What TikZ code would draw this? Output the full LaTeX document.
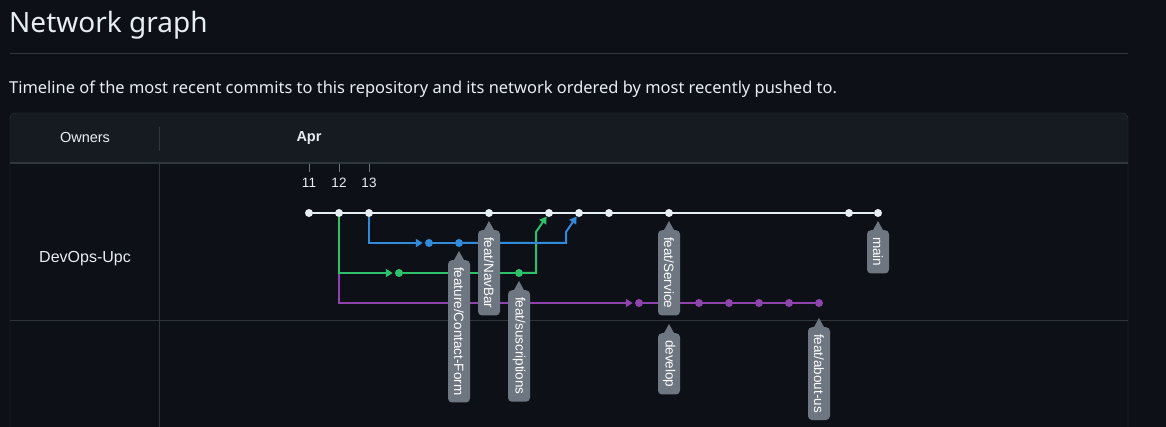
\documentclass[tikz,border=0pt]{standalone}
\usepackage{fontspec}
\setmainfont{Liberation Sans}
\newfontfamily\uifont{Noto Sans}
\usetikzlibrary{arrows.meta}
\usetikzlibrary{positioning}

\definecolor{pagebg}{HTML}{0D1117}
\definecolor{headbg}{HTML}{161B22}
\definecolor{rulecol}{HTML}{30363D}
\definecolor{fgtext}{HTML}{E6EDF3}
\definecolor{tickcol}{HTML}{6E7681}
\definecolor{tagcol}{HTML}{6E7681}
\definecolor{mainline}{HTML}{E6EDF3}
\definecolor{blueline}{HTML}{318BDA}
\definecolor{greenline}{HTML}{2EC06A}
\definecolor{purpleline}{HTML}{8E44AD}

% branch label with a small pointer on top
\newcommand{\branchtag}[4]{%
  \node[tag] (#1) at (#2,#3) {#4};
  \fill[tagcol] ([xshift=-5.5pt,yshift=-1pt]#1.west) -- ++(5.5,-10) -- ++(5.5,10) -- cycle;
}

\begin{document}
\begin{tikzpicture}[x=1pt,y=-1pt,
  commit/.style={circle,fill=#1,inner sep=0pt,minimum size=8pt},
  branch/.style={line width=2pt,draw=#1},
  tip/.style={-{Triangle[length=7pt,width=8pt]}},
  tag/.style={rotate=-90,anchor=west,fill=tagcol,rounded corners=4pt,text=white,
    font=\fontsize{13.5}{13.5}\selectfont,minimum height=22pt,inner xsep=7pt,inner ysep=0pt},
  cell/.style={text=fgtext,inner sep=0pt}]
  \fill[pagebg] (0,0) rectangle (1166,427);
  \useasboundingbox (0,0) rectangle (1166,427);

  % page heading
  \node[cell,anchor=base west,font=\uifont\fontsize{28}{28}\selectfont] (title) at (9,33) {Network graph};
  \draw[rulecol] (10,53) -- (1128,53);
  \node[cell,anchor=base west,font=\uifont\fontsize{16.45}{16.45}\selectfont] (intro) at (9,94)
    {Timeline of the most recent commits to this repository and its network ordered by most recently pushed to.};

  % table frame
  \path[fill=headbg] (10,163) [rounded corners=6pt] -- (10,113) -- (1128,113) [sharp corners] -- (1128,163) -- cycle;
  \draw[rulecol] (10,440) [rounded corners=6pt] -- (10,113) -- (1128,113) [sharp corners] -- (1128,440);
  \draw[rulecol,line width=1.3pt] (10,163) -- (1128,163);
  \draw[rulecol] (10,320) -- (1128,320);
  \draw[rulecol] (159,127) -- (159,151);
  \draw[rulecol] (159,163) -- (159,440);
  \node[cell,font=\fontsize{14.5}{14.5}\selectfont] (owners) at (85,138) {Owners};
  \node[cell,font=\bfseries\fontsize{14.5}{14.5}\selectfont] (month) at (309,138) {Apr};
  \node[cell,font=\fontsize{16}{16}\selectfont] (owner) at (85,259) {DevOps-Upc};

  % days
  \foreach \x/\d in {309/11,339/12,369/13} {
    \draw[tickcol] (\x,164) -- (\x,172);
    \node[cell,font=\fontsize{13.5}{13.5}\selectfont] (day\d) at (\x,183) {\d};
  }

  % commits
  \foreach \i/\x in {1/309,2/339,3/369,4/489,5/549,6/579,7/609,8/669,9/849,10/878}
    \node[commit=mainline] (m\i) at (\x,213) {};
  \node[commit=blueline] (b1) at (429,243) {};
  \node[commit=blueline] (b2) at (459,243) {};
  \node[commit=greenline] (g1) at (399,273) {};
  \node[commit=greenline] (g2) at (519,273) {};
  \foreach \i/\x in {1/639,2/699,3/729,4/759,5/789,6/819}
    \node[commit=purpleline] (p\i) at (\x,303) {};

  % branches
  \draw[branch=mainline] (m1) -- (m10);
  \draw[branch=purpleline,tip,shorten >=2pt] (m2) |- (p1);
  \draw[branch=purpleline] (p1) -- (p6);
  \draw[branch=greenline,tip,shorten >=2pt] (m2) |- (g1);
  \draw[branch=greenline] (g1) -- (g2);
  \draw[branch=greenline,tip] (g2) -- ++(17,0) -- ++(0,-41) -- (m5);
  \draw[branch=blueline,tip,shorten >=2pt] (m3) |- (b1);
  \draw[branch=blueline] (b1) -- (b2);
  \draw[branch=blueline,tip] (b2) -- ++(107,0) -- ++(0,-11) -- (m6);

  % branch labels
  \branchtag{navbar}{489}{230}{feat/NavBar}
  \branchtag{contact}{459}{260}{feature/Contact-Form}
  \branchtag{subs}{519}{290}{feat/suscriptions}
  \branchtag{service}{669}{230}{feat/Service}
  \branchtag{develop}{669}{333}{develop}
  \branchtag{mainb}{878}{230}{main}
  \branchtag{about}{819}{327}{feat/about-us}
\end{tikzpicture}
\end{document}
